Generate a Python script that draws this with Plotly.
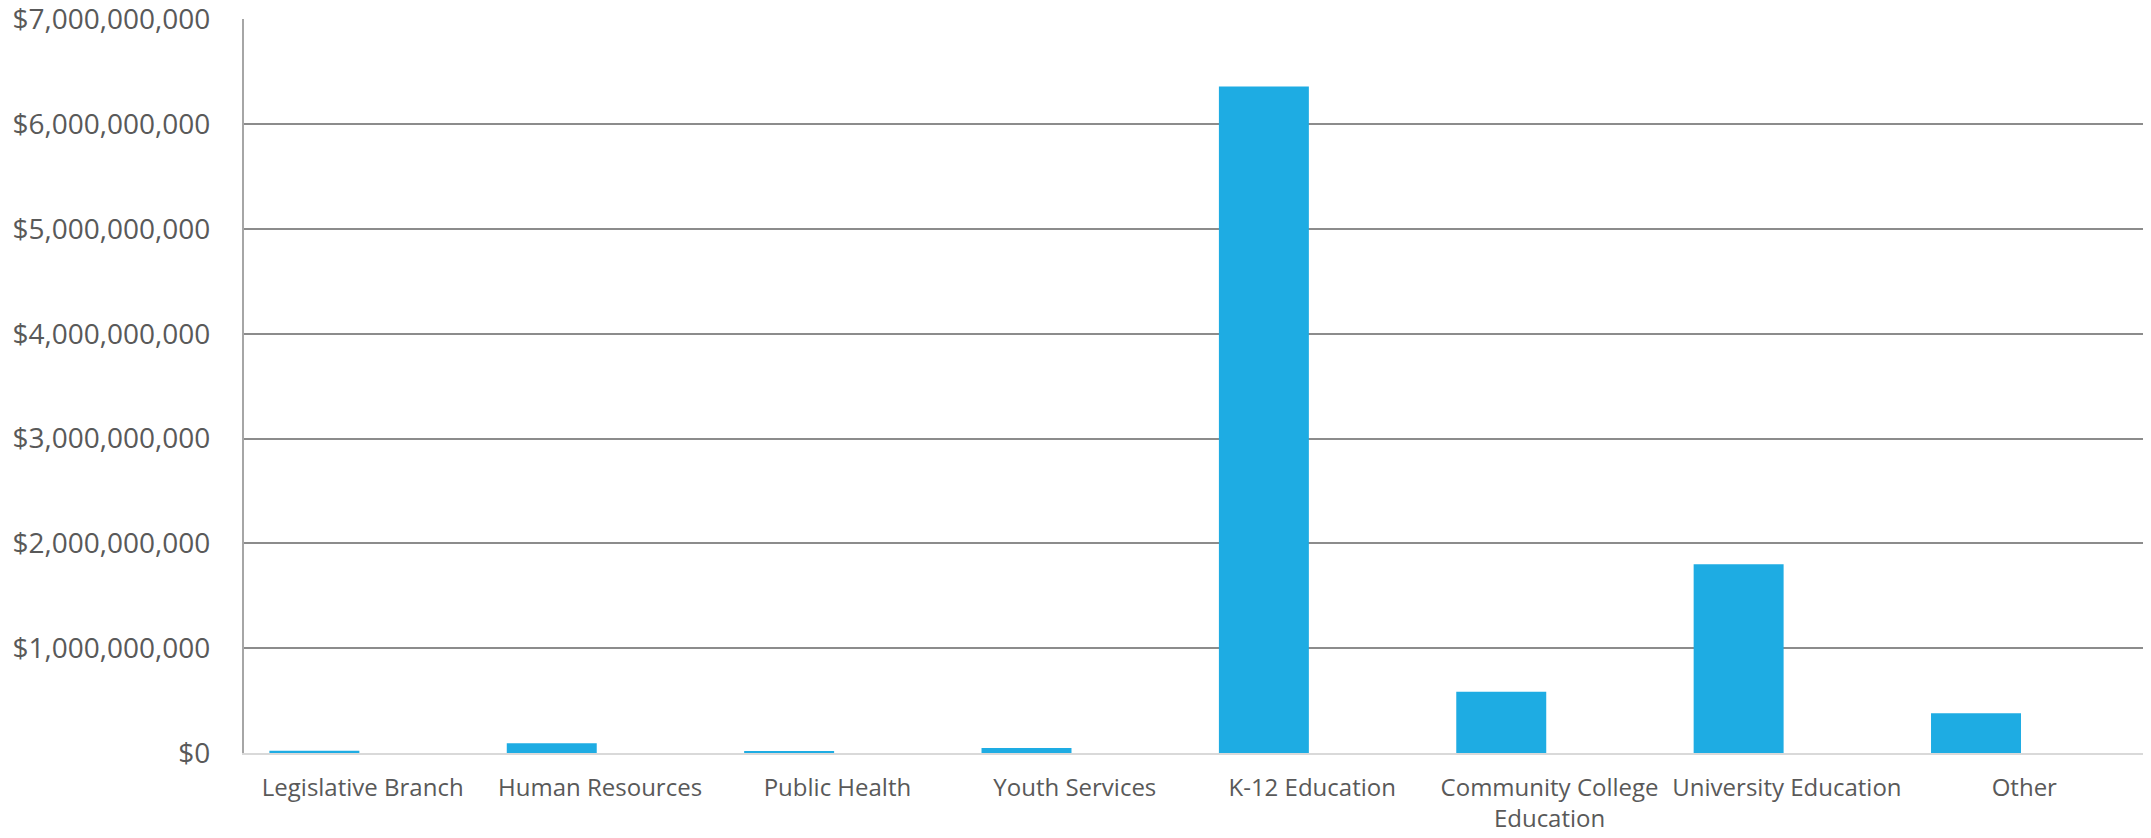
import plotly.graph_objects as go

categories = ["Legislative Branch", "Human Resources", "Public Health", "Youth Services",
              "K-12 Education", "Community College<br>Education", "University Education", "Other"]
values = [22_000_000, 92_000_000, 12_000_000, 48_000_000,
          6_360_000_000, 585_000_000, 1_800_000_000, 379_000_000]
y_ticks = [0, 1e9, 2e9, 3e9, 4e9, 5e9, 6e9, 7e9]
y_tick_labels = ["$0", "$1,000,000,000", "$2,000,000,000", "$3,000,000,000",
                 "$4,000,000,000", "$5,000,000,000", "$6,000,000,000", "$7,000,000,000"]

fig = go.Figure(go.Bar(
    x=categories, y=values,
    marker=dict(color="#1EACE3", line=dict(width=0)),
    width=0.379, offset=-0.393,
    hoverinfo="x+y",
))

font = "Open Sans, Segoe UI, sans-serif"
# the page body has an 8px margin, so the figure is sized/offset to compensate
fig.update_layout(
    width=2137, height=822,
    margin=dict(l=236, r=2, t=11, b=77, autoexpand=False),
    paper_bgcolor="white", plot_bgcolor="white",
    showlegend=False,
    font=dict(family=font, color="#595959"),
)
fig.update_xaxes(
    type="category", automargin=False,
    showgrid=False, showline=True, linecolor="#d9d9d9", linewidth=2,
    tickfont=dict(size=24, color="#595959", family=font),
    ticks="", ticklabelstandoff=12,
)
fig.update_yaxes(
    range=[0, 7.003e9], tickvals=y_ticks, ticktext=y_tick_labels,
    automargin=False, ticklabeloverflow="allow",
    showgrid=True, gridcolor="#8c8c8c", gridwidth=1.5,
    showline=True, linecolor="#a6a6a6", linewidth=2, mirror=True,
    zeroline=False,
    tickfont=dict(size=28, color="#595959", family=font),
    ticks="", ticklabelstandoff=26,
)
fig.write_html("out.html")
